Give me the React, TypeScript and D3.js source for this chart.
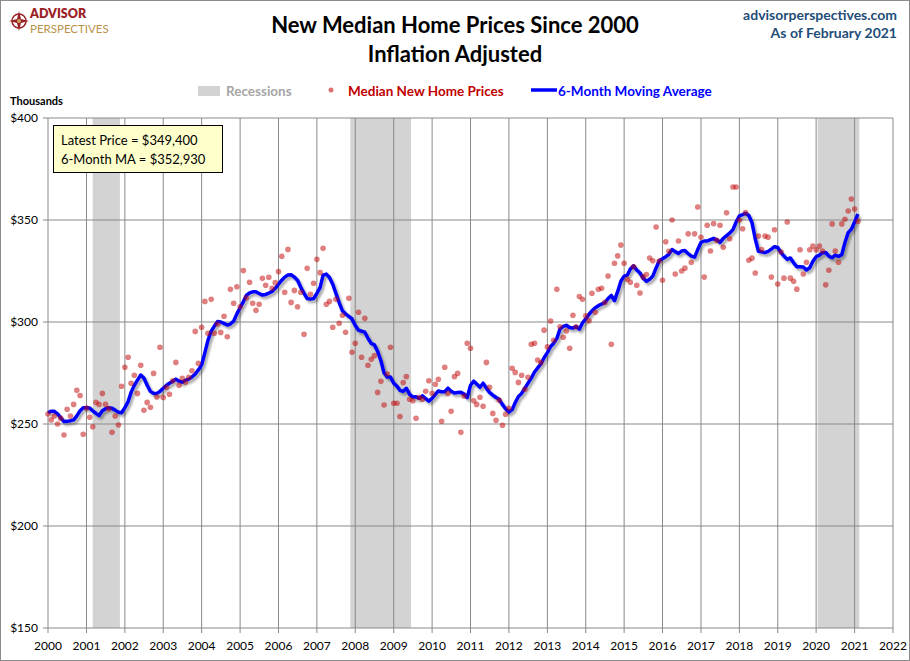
import React from 'react';
import * as d3 from 'd3';

// monthly inflation-adjusted median new home price, $ thousands, Jan 2000 .. Feb 2021
const prices = [
  254.9, 252, 253.9, 250, 252.8, 244.6, 257.2, 253.9, 259.6, 266.5, 264, 245,
  257.8, 253.3, 248.6, 260.6, 259.6, 265, 259.6, 257.5, 245.9, 253.9, 249.5, 268.5,
  277.8, 282.7, 270, 273.9, 265, 278.8, 256.7, 260.6, 258.2, 274.8, 263.2, 287.6,
  263, 268, 264.6, 271.2, 280.2, 269, 272.4, 270.5, 272.9, 276.1, 295.4, 279.8,
  297.4, 310.1, 294.5, 311.1, 294.5, 299, 294.9, 302.8, 292.8, 316, 309.2, 317.3,
  307.5, 325.2, 311.9, 319.5, 309.2, 305.7, 308.7, 321.4, 318, 321.9, 316.5, 319.3,
  324.7, 332.2, 314.6, 335.6, 309.6, 315.5, 307.5, 314.6, 294, 326.3, 313.6, 319,
  330.7, 324.2, 336.1, 308.7, 310.1, 297.4, 311.1, 299.4, 303.3, 295, 311.6, 285.2,
  289.6, 304.8, 282.7, 301.8, 278.8, 281.7, 283.5, 265.5, 270.9, 259.3, 274.5, 287.6,
  260.2, 260.2, 253.7, 270.3, 273.2, 262.1, 261.4, 252.8, 263.1, 262.1, 266, 271.2,
  265, 269.5, 271.9, 251.3, 277.8, 265, 256.2, 273.2, 274.8, 245.9, 263.7, 289.6,
  287.1, 261.4, 259.6, 263.1, 258.7, 280.2, 268, 255.2, 251.8, 261.6, 249.4, 254.8,
  257.7, 277.3, 275.3, 270.4, 273.9, 267, 272.9, 289.1, 289.6, 281.4, 280.1, 296,
  287.8, 300.5, 291, 316, 297.7, 292.5, 295.6, 287.1, 303.3, 297.7, 312.5, 311.1,
  303, 300.6, 314.1, 304.8, 316, 316.5, 309.6, 322.5, 289.1, 328.8, 332.4, 337.7,
  328.8, 320.9, 319.5, 327.1, 318, 314.2, 322.1, 323.3, 331.4, 330, 346.6, 329.9,
  320.5, 339.3, 334.7, 350, 323.5, 339.7, 325, 326.4, 343.2, 329.3, 343.2, 356.4,
  341.5, 322, 347.4, 334.8, 348.2, 340, 347.4, 336.6, 353.5, 340.8, 366.2, 366.2,
  350, 345.7, 353.6, 330.3, 331.3, 324, 342.1, 335.5, 342.1, 341.6, 322, 345.2,
  318.6, 334.3, 321.5, 349, 321.5, 320, 316.1, 335.4, 323.5, 329.3, 335.4, 337.2,
  335.4, 337.2, 334.8, 318.2, 325.4, 348.1, 334.8, 329.3, 348.1, 350.4, 354.4, 360.3,
  355.4, 349.4,
];

// 6-month moving average as drawn
const movingAvg = [
  255.5, 256.3, 256.2, 255, 253, 251.2, 251.3, 251.6, 252, 254, 256.5, 258,
  258, 257.8, 256.5, 255.2, 254.2, 256.5, 257.5, 258, 257.7, 256.8, 255.8, 255.5,
  258, 261, 265.5, 269, 271.5, 274, 272.5, 269, 266, 265, 265, 266,
  267.5, 269, 270, 271, 272, 271, 270.5, 271.5, 272, 273, 274.5, 276.5,
  279, 285, 291, 295.5, 298, 300.3, 300, 299.3, 298.5, 299, 300.5, 304,
  307, 310, 313, 314.3, 314.8, 314.8, 314, 313.2, 313.5, 314.2, 315, 316.5,
  318.5, 320.5, 322, 323, 323.2, 322, 320.5, 317, 314, 311.5, 311.2, 311.5,
  314, 317, 323, 323.5, 321.8, 318.5, 314, 309.5, 305.5, 304, 302.8, 301.5,
  298.3, 296, 295.5, 295, 292, 289.5, 288.8, 285.5, 281, 275, 273, 273,
  270, 268.5, 266.5, 266, 267.5, 264.5, 263.2, 263.3, 262.6, 263.8, 262.4, 261.2,
  262.6, 264.5, 266.2, 265.8, 265.8, 267.6, 266, 265.2, 265.4, 265.6, 264.7, 263,
  269, 271, 269.6, 268, 270, 267.6, 265.5, 264.2, 263, 262.1, 259.5, 257.5,
  255.8, 257, 260.5, 263.5, 265, 267.5, 270, 272.5, 275.5, 277.5, 279.5, 282.5,
  285, 288, 289.5, 292, 296.5, 297.8, 298.4, 297.3, 297, 297.8, 296.5, 299.5,
  301.5, 303.8, 305.5, 307, 308, 308.8, 309.5, 311.5, 313, 310.5, 315, 320,
  322.5, 323, 326, 327.5, 325.5, 324, 321.5, 320, 321, 322.5, 326.5, 330,
  331, 332, 333.2, 335.5, 334.5, 333.6, 334.8, 335, 333.5, 332.3, 331.8, 335.5,
  339, 339.7, 339.7, 340.4, 341, 340.3, 339, 341, 342.3, 343.6, 345.3, 349,
  352, 352.6, 353.3, 352.2, 348.7, 340.7, 334.7, 334.4, 334, 334.6, 335.7, 336.9,
  336.5, 334, 332.3, 330.7, 331.4, 329, 327.1, 327.1, 327, 325.5, 326.6, 329.8,
  332, 332.8, 334, 334.1, 332.3, 331.5, 332.8, 332.2, 333, 339, 343.8, 345.5,
  349, 352.93,
];

const recessions = [
  ['2001-03-01', '2001-11-15'],
  ['2007-11-15', '2009-06-15'],
  ['2020-01-15', '2021-02-15'],
];

const yTicks = [150, 200, 250, 300, 350, 400];
const yearTicks = d3.range(2000, 2023);

const FONT = 'Lato, "Open Sans", sans-serif';

export default function App() {
  const width = 910;
  const height = 661;
  const left = 48;
  const right = 893;
  const top = 118;
  const bottom = 628;

  const x = d3.scaleTime()
    .domain([new Date(2000, 0, 1), new Date(2022, 0, 1)])
    .range([left, right]);
  const y = d3.scaleLinear().domain([150, 400]).range([bottom, top]);

  const monthDate = (i: number) => new Date(2000, i, 1);

  const line = d3.line<number>()
    .x((_, i) => x(monthDate(i)))
    .y((d) => y(d));

  const latest = prices[prices.length - 1];
  const latestMA = movingAvg[movingAvg.length - 1];
  const dollars = (v: number) => d3.format('$,')(Math.round(v * 100) * 10);

  return (
    <div style={{ position: 'absolute', left: 0, top: 0 }}>
      <svg width={width} height={height} style={{ display: 'block', fontFamily: FONT }}>
        <defs>
          <filter id="shadow" x="-5%" y="-5%" width="110%" height="120%">
            <feDropShadow dx="2" dy="2.5" stdDeviation="1.2" floodColor="#000" floodOpacity="0.35" />
          </filter>
        </defs>
        <rect x={0.5} y={0.5} width={width - 1} height={height - 1} fill="#fff" stroke="#8c8c8c" />

        {/* logo */}
        <g transform="translate(19,21)">
          <circle r={7} fill="none" stroke="#9b2226" strokeWidth={1.5} />
          <path d="M0,-10 L2,-2 L10,0 L2,2 L0,10 L-2,2 L-10,0 L-2,-2 Z" fill="#9b2226" />
          <circle r={2} fill="#c9a45c" />
        </g>
        <text x={30} y={18} fontSize={12.5} fontWeight={800} fill="#9b2226">ADVISOR</text>
        <text x={30} y={33} fontSize={11.5} fill="#b8924a">PERSPECTIVES</text>

        {/* titles */}
        <text x={455} y={33} textAnchor="middle" fontSize={22} fontWeight={700} fill="#000">
          New Median Home Prices Since 2000
        </text>
        <text x={455} y={62} textAnchor="middle" fontSize={22} fontWeight={700} fill="#000">
          Inflation Adjusted
        </text>
        <text x={897} y={20} textAnchor="end" fontSize={14} fontWeight={700} fill="#1f4e79">
          advisorperspectives.com
        </text>
        <text x={897} y={38} textAnchor="end" fontSize={14} fontWeight={700} fill="#1f4e79">
          As of February 2021
        </text>

        {/* legend */}
        <rect x={198} y={86} width={22} height={10} fill="#d3d3d3" />
        <text x={226} y={96} fontSize={13.5} fontWeight={700} fill="#a6a6a6">Recessions</text>
        <circle cx={331} cy={90} r={2.5} fill="#c00000" fillOpacity={0.55} />
        <text x={348} y={96} fontSize={13.5} fontWeight={700} fill="#c00000">Median New Home Prices</text>
        <line x1={531} x2={557} y1={90} y2={90} stroke="#0000ff" strokeWidth={3.5} />
        <text x={558} y={96} fontSize={13.5} fontWeight={700} fill="#0000ff">6-Month Moving Average</text>

        <text x={10} y={105} fontSize={11} fontWeight={700} fill="#000">Thousands</text>

        {/* recession bands */}
        {recessions.map(([a, b]) => (
          <rect key={a} x={x(new Date(a))} y={top} width={x(new Date(b)) - x(new Date(a))}
            height={bottom - top} fill="#d3d3d3" />
        ))}

        {/* grid */}
        {yTicks.map((t) => (
          <g key={t}>
            <line x1={left - 5} x2={right} y1={y(t)} y2={y(t)} stroke="#898989" />
            <text x={38} y={y(t) + 4} textAnchor="end" fontSize={12} fill="#000">${t}</text>
          </g>
        ))}
        {yearTicks.map((yr) => (
          <g key={yr}>
            <line x1={x(new Date(yr, 0, 1))} x2={x(new Date(yr, 0, 1))} y1={top} y2={bottom + 5}
              stroke="#898989" />
            <text x={x(new Date(yr, 0, 1))} y={650} textAnchor="middle" fontSize={12} fill="#000">{yr}</text>
          </g>
        ))}

        {/* moving average */}
        <path d={line(movingAvg) || ''} fill="none" stroke="#0000ff" strokeWidth={3.5}
          strokeLinejoin="round" filter="url(#shadow)" />

        {/* monthly prices */}
        {prices.map((p, i) => (
          <circle key={i} cx={x(monthDate(i))} cy={y(p)} r={2.8} fill="#c00000" fillOpacity={0.5} />
        ))}

        {/* annotation */}
        <rect x={53.5} y={125.5} width={169} height={47} fill="#ffffcc" stroke="#000" />
        <text x={61} y={145} fontSize={13} fill="#000">Latest Price = {dollars(latest)}</text>
        <text x={61} y={164} fontSize={13} fill="#000">6-Month MA = {dollars(latestMA)}</text>
      </svg>
    </div>
  );
}
